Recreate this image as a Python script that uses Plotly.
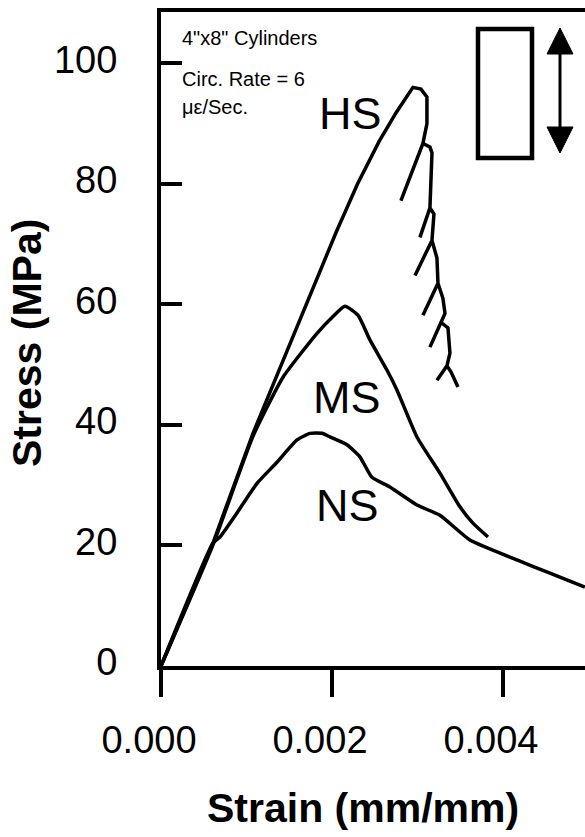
import plotly.graph_objects as go

# ---- data (strain in mm/mm, stress in MPa) ----
hs_strain = [0.0, 0.000608, 0.001076, 0.001825, 0.002050, 0.002300, 0.002550, 0.002750,
             0.002947, 0.003041,
             0.003111, 0.003111, 0.003064, 0.002807, 0.003064, 0.003146, 0.003170, 0.003146,
             0.003029, 0.003146, 0.003193, 0.003170, 0.002971, 0.003170, 0.003228, 0.003240,
             0.003064, 0.003240, 0.003298, 0.003322, 0.003275, 0.003146, 0.003275, 0.003357,
             0.003380, 0.003345, 0.003228, 0.003345, 0.003392, 0.003474]
hs_stress = [0.0, 20.4, 38.6, 64.0, 72.0, 80.0, 87.0, 91.8,
             96.0, 95.7,
             94.4, 90.0, 86.7, 77.2, 86.7, 86.1, 85.1, 76.0,
             71.1, 76.0, 75.0, 70.6, 64.8, 70.6, 67.7, 63.5,
             58.2, 63.5, 61.0, 58.5, 57.0, 52.9, 57.0, 56.1,
             51.9, 49.8, 47.4, 49.8, 48.8, 46.3]

ms_strain = [0.0, 0.000608, 0.001076, 0.001427, 0.001825, 0.002012, 0.002152, 0.002304,
             0.002444, 0.002643, 0.002760, 0.002994, 0.003263, 0.003497, 0.003649, 0.003825]
ms_stress = [0.0, 20.1, 38.1, 47.9, 55.2, 58.0, 59.7, 58.2,
             54.1, 49.1, 45.8, 38.0, 32.0, 26.4, 23.7, 21.4]

ns_strain = [0.0, 0.000608, 0.000690, 0.000889, 0.001123, 0.001357, 0.001591, 0.001743,
             0.001883, 0.001977, 0.002175, 0.002327, 0.002468, 0.002678, 0.002994, 0.003263,
             0.003614, 0.004164, 0.004550, 0.004959]
ns_stress = [0.0, 20.4, 21.4, 25.4, 30.3, 33.8, 37.5, 38.6,
             38.6, 38.0, 36.7, 34.7, 31.3, 29.7, 26.7, 25.0,
             20.9, 17.6, 15.4, 13.1]

x_ticks = [0.0, 0.002, 0.004]
y_ticks = [0, 20, 40, 60, 80, 100]

curve_labels = ["HS", "MS", "NS"]
note_lines = ["4\"x8\" Cylinders", "Circ. Rate = 6", "\u03bc\u03b5/Sec."]

# ---- layout geometry (pixels) ----
W, H = 585, 837
L, R, T, B = 161, 0, 12, 171
PW, PH = W - L - R, H - T - B


def px(x, y):
    """pixel position -> paper coordinates"""
    return (x - L) / PW, (H - B - y) / PH


FONT = "Liberation Sans, Arial, Helvetica, sans-serif"

fig = go.Figure()
fig.add_trace(go.Scatter(x=hs_strain, y=hs_stress, mode="lines",
                         line=dict(color="black", width=3.5), showlegend=False))
fig.add_trace(go.Scatter(x=ms_strain, y=ms_stress, mode="lines",
                         line=dict(color="black", width=3.5, shape="spline", smoothing=0.5),
                         showlegend=False))
fig.add_trace(go.Scatter(x=ns_strain, y=ns_stress, mode="lines",
                         line=dict(color="black", width=3.5, shape="spline", smoothing=0.5),
                         showlegend=False))

annotations = []
# curve labels
for text, (ax, ay) in zip(curve_labels, [(350, 114), (347, 397), (347, 505)]):
    xp, yp = px(ax, ay)
    annotations.append(dict(text=text, x=xp, y=yp, xref="paper", yref="paper",
                            showarrow=False, xanchor="center", yanchor="middle",
                            font=dict(family=FONT, size=45, color="black")))
# notes
for text, ay in zip(note_lines, [38, 79, 107]):
    xp, yp = px(180, ay)
    annotations.append(dict(text=text, x=xp, y=yp, xref="paper", yref="paper",
                            showarrow=False, xanchor="left", yanchor="middle",
                            font=dict(family=FONT, size=20, color="black")))
# axis titles
xt, yt = px(363, 808)
annotations.append(dict(text="<b>Strain (mm/mm)</b>", x=xt, y=yt, xref="paper", yref="paper",
                        showarrow=False, xanchor="center", yanchor="middle",
                        font=dict(family=FONT, size=41, color="black")))
xt, yt = px(27, 343)
annotations.append(dict(text="<b>Stress (MPa)</b>", x=xt, y=yt, xref="paper", yref="paper",
                        showarrow=False, xanchor="center", yanchor="middle", textangle=-90,
                        font=dict(family=FONT, size=41, color="black")))

shapes = []
# specimen rectangle
x0, y0 = px(478, 158)
x1, y1 = px(532, 29)
shapes.append(dict(type="rect", xref="paper", yref="paper", x0=x0, y0=y0, x1=x1, y1=y1,
                   line=dict(color="black", width=4.5), fillcolor="rgba(0,0,0,0)"))
# double arrow
sx, sy0 = px(560, 50)
_, sy1 = px(560, 130)
shapes.append(dict(type="line", xref="paper", yref="paper", x0=sx, y0=sy0, x1=sx, y1=sy1,
                   line=dict(color="black", width=3)))


def tri(pts):
    p = [px(a, b) for a, b in pts]
    return "M {} {} L {} {} L {} {} Z".format(p[0][0], p[0][1], p[1][0], p[1][1], p[2][0], p[2][1])


shapes.append(dict(type="path", xref="paper", yref="paper",
                   path=tri([(560, 28), (547, 54), (573, 54)]),
                   fillcolor="black", line=dict(color="black", width=1)))
shapes.append(dict(type="path", xref="paper", yref="paper",
                   path=tri([(560, 153), (547, 127), (573, 127)]),
                   fillcolor="black", line=dict(color="black", width=1)))

fig.update_layout(
    width=W, height=H,
    margin=dict(l=L, r=R, t=T, b=B, pad=0),
    paper_bgcolor="white", plot_bgcolor="white",
    showlegend=False,
    annotations=annotations,
    shapes=shapes,
    xaxis=dict(range=[0, 0.00496], tickvals=x_ticks, tickformat=".3f",
               showline=True, linecolor="black", linewidth=4, mirror=True,
               ticks="outside", ticklen=27, tickwidth=4, tickcolor="black",
               showgrid=False, zeroline=False, ticklabelshift=-12, ticklabelstandoff=10,
               tickfont=dict(family=FONT, size=38, color="black")),
    yaxis=dict(range=[0, 108.5], tickvals=y_ticks,
               showline=True, linecolor="black", linewidth=4, mirror=False,
               ticks="inside", ticklen=21, tickwidth=4, tickcolor="black",
               showgrid=False, zeroline=False, ticklabelstandoff=32, ticklabelshift=-4,
               tickfont=dict(family=FONT, size=38, color="black")),
)

fig.write_html("out.html")
